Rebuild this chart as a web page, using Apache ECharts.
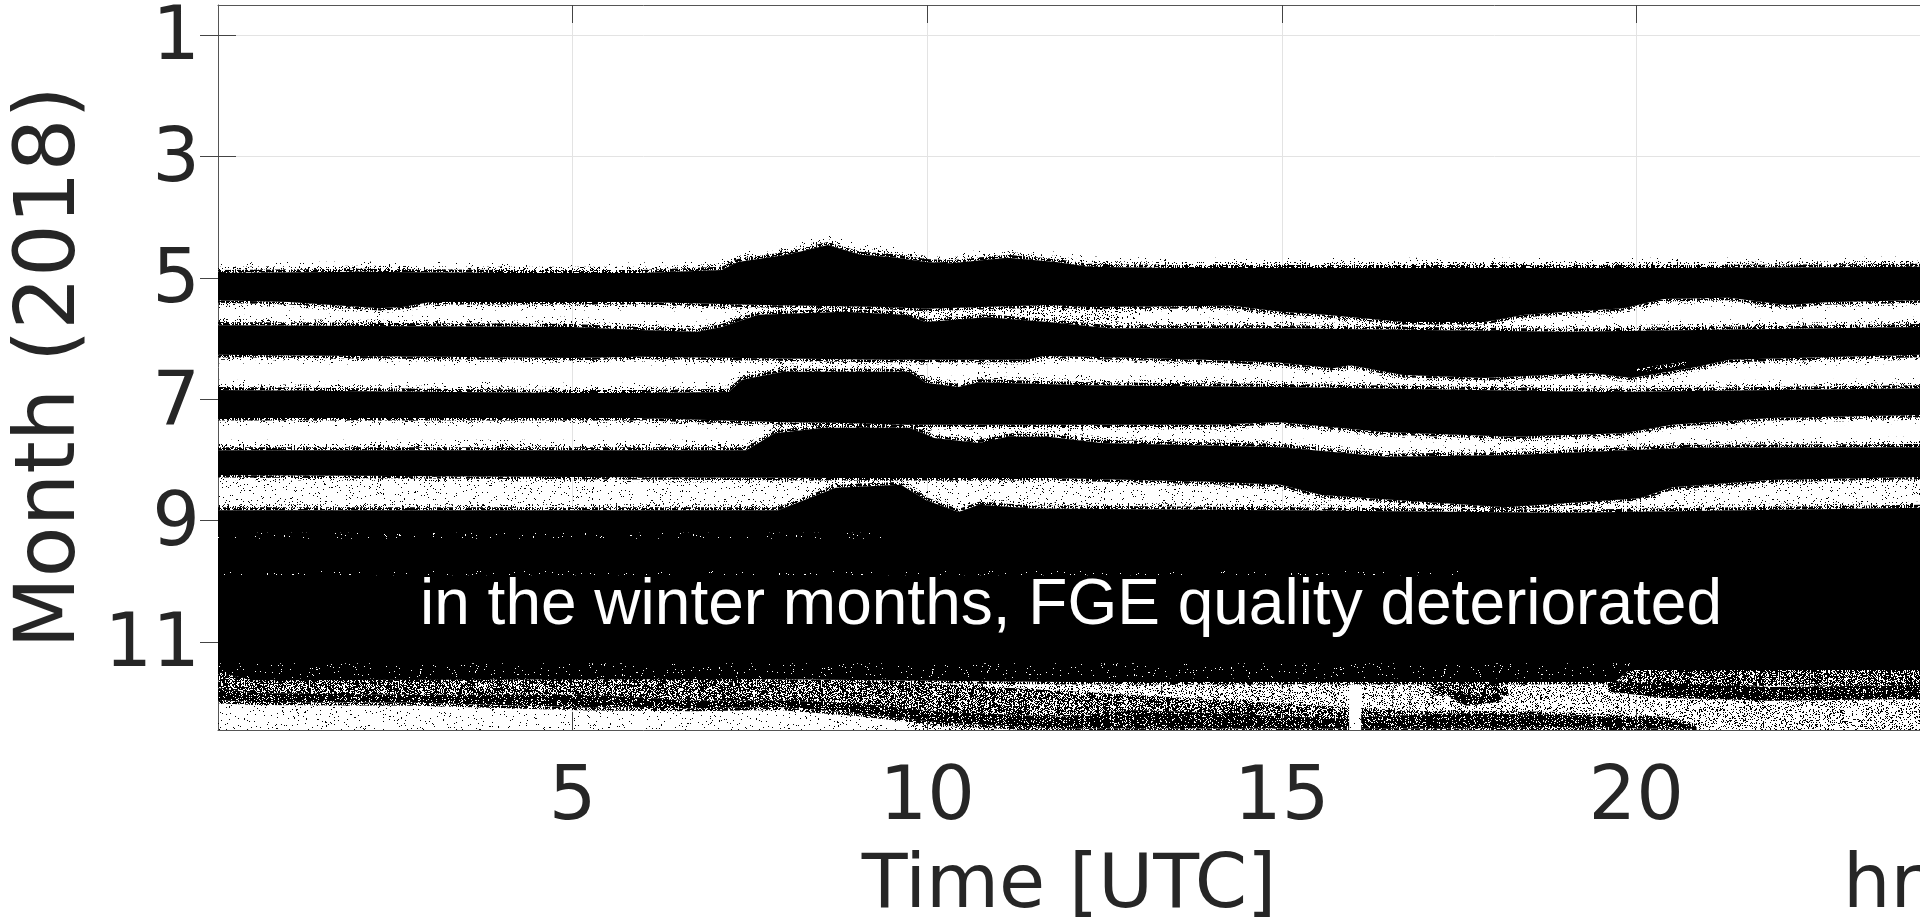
<!DOCTYPE html>
<html>
<head>
<meta charset="utf-8">
<style>html,body{margin:0;padding:0;background:#fff;overflow:hidden}#c{width:1920px;height:918px}</style>
<script src="https://cdn.jsdelivr.net/npm/echarts@6/dist/echarts.min.js"></script>
</head>
<body>
<div id="c"></div>
<script>
// Tick labels
const hourTicks = [5, 10, 15, 20];
const monthTicks = [1, 3, 5, 7, 9, 11];
const annotation = 'in the winter months, FGE quality deteriorated';

// Edges of the solid point clouds: [hour UTC, month position]
const top5 = [[0,4.92],[2,4.90],[4,4.92],[5.95,4.92],[7.1,4.87],[7.33,4.74],[8.02,4.62],[8.6,4.46],[9.06,4.62],[9.52,4.66],[9.98,4.74],[10.33,4.76],[11.13,4.67],[11.82,4.74],[12.28,4.82],[13.43,4.84],[18,4.84],[21,4.84],[24,4.82]];
const bot5 = [[0,5.37],[1,5.40],[2.27,5.50],[2.6,5.48],[3,5.40],[5.95,5.40],[7.68,5.45],[9.4,5.48],[9.98,5.51],[11.71,5.45],[12.28,5.48],[14.3,5.46],[14.98,5.56],[15.61,5.61],[16.71,5.73],[17.86,5.73],[18.43,5.61],[19.82,5.50],[20.39,5.35],[21.31,5.33],[22.12,5.45],[22.75,5.40],[24,5.37]];
const top6 = [[0,5.78],[5,5.81],[5.95,5.86],[6.76,5.89],[7.1,5.81],[7.62,5.61],[8.83,5.56],[9.69,5.61],[9.98,5.73],[10.84,5.65],[11.71,5.73],[12.57,5.83],[14.98,5.83],[19.01,5.89],[24,5.81]];
const bot6 = [[0,6.27],[5,6.32],[5.95,6.30],[9.4,6.35],[11.4,6.35],[11.65,6.29],[12.28,6.30],[13.9,6.35],[14.98,6.40],[15.73,6.49],[15.96,6.44],[16.71,6.60],[17.86,6.65],[19.36,6.57],[19.93,6.65],[20.85,6.47],[21.31,6.35],[24,6.27]];
const top7 = [[0,6.85],[5,6.90],[5.95,6.90],[7.2,6.88],[7.39,6.68],[7.97,6.55],[9.75,6.55],[9.98,6.73],[10.44,6.80],[10.73,6.72],[12.28,6.77],[14.98,6.80],[19.59,6.88],[24,6.82]];
const bot7 = [[0,7.31],[5.95,7.31],[7.97,7.38],[8.66,7.39],[9.69,7.42],[14,7.42],[14.98,7.38],[16.42,7.54],[18.26,7.62],[19.82,7.56],[20.51,7.42],[21.89,7.31],[24,7.26]];
const top8 = [[0,7.84],[7.45,7.84],[7.85,7.56],[8.54,7.47],[9.75,7.47],[10.1,7.64],[10.73,7.72],[11.13,7.62],[11.71,7.62],[12.46,7.72],[14.98,7.79],[16.48,7.95],[18.26,7.92],[20.74,7.80],[24,7.79]];
const bot8 = [[0,8.25],[5,8.28],[8.71,8.30],[11.71,8.30],[14,8.36],[14.98,8.41],[15.56,8.58],[16.59,8.66],[18.15,8.78],[20.05,8.63],[20.51,8.45],[21.89,8.33],[24,8.28]];
const massTop = [[0,8.83],[7.9,8.83],[8.71,8.46],[9.63,8.41],[9.98,8.66],[10.44,8.86],[10.73,8.74],[11.5,8.80],[14.98,8.83],[19,8.87],[24,8.79]];
const massBot = [[0,11.50],[0.5,11.63],[7.5,11.61],[11.9,11.66],[19.7,11.66],[19.9,11.46],[24,11.46]];

// Lower stripe of the December rows
const stripeTop = [[0,11.76],[0.5,11.84],[2.8,11.87],[5.2,11.87],[6.7,11.96],[7.9,11.96],[9,12.01],[10.2,12.15],[11.9,12.23],[13,12.12],[14.2,12.18],[15.7,12.26],[17.3,12.18],[18.8,12.20],[20.4,12.28],[20.85,12.40]];
const stripeBot = [[0,11.96],[0.5,11.99],[2.8,12.00],[5.2,12.08],[6.7,12.09],[7.9,12.07],[9,12.17],[10.2,12.33],[11.9,12.43],[13,12.42],[15.7,12.43],[17.3,12.43],[18.8,12.40],[20.4,12.43],[20.85,12.43]];
const rightStripeTop = [[19.6,11.66],[20.4,11.67],[21.9,11.74],[24,11.71]];
const rightStripeBot = [[19.6,11.82],[20.4,11.92],[21.9,11.97],[24,11.94]];
const bumpTop = [[17.2,11.72],[17.6,11.87],[18.1,11.85]];
const bumpBot = [[17.2,11.80],[17.6,12.05],[18.1,11.98]];
const ghostTop = [[20.0,6.50],[20.7,6.38]];
const ghostBot = [[20.0,6.57],[20.7,6.44]];

// Rectangular speckle zones: [hour from, hour to, month from, month to]
const floorLeft = [0, 9.7, 11.5, 12.45];
const floorMiddle = [9.7, 20.9, 11.6, 12.45];
const floorRight = [19.7, 24, 11.6, 12.45];
const grayLeft = [[0,11.5],[9.7,11.66]];
const grayRight = [19.8, 24, 11.46, 11.72];
const grayBump = [17.1, 18.2, 11.66, 11.88];
const whiteColumn = [15.95, 16.12, 11.66, 12.45];
const streakPatch = [10.8, 11.25, 7.66, 7.78];
const gapJune = [8.0, 13.0, 5.45, 5.72];
const faintLines = [[0, 9.5, 9.2, 9.3], [0, 17.5, 9.83, 9.9], [0, 20, 11.35, 11.6]];
// Hours of the thin vertical dropouts below the solid block
const dropoutHours = [10.15, 12.6, 13.3, 15.0, 15.1, 15.75, 16.56, 16.8];

// Stipple textures
function hash(x, y) {
  let h = (Math.imul(x, 374761393) + Math.imul(y, 668265263)) | 0;
  h = Math.imul(h ^ (h >>> 13), 1274126177);
  return ((h ^ (h >>> 16)) >>> 0) / 4294967296;
}
function tile(color, density, streak) {
  const size = 512, c = document.createElement('canvas');
  c.width = c.height = size;
  const g = c.getContext('2d');
  g.fillStyle = color;
  for (let x = 0; x < size; x++) {
    const p = density * (1 - streak + 2 * streak * hash(x, 7919));
    for (let y = 0; y < size; y++) if (hash(x + 13, y + 101) < p) g.fillRect(x, y, 1, 1);
  }
  return { image: c, repeat: 'repeat' };
}
const black = '#000';
const edge1 = tile(black, 0.62, 0.7), edge2 = tile(black, 0.16, 0.95), edge3 = tile(black, 0.02, 0.3);
const sparse = tile(black, 0.035, 0), medium = tile(black, 0.2, 0.3), dense = tile(black, 0.62, 0.25), heavy = tile(black, 0.86, 0.1);
const gapDots = tile(black, 0.04, 0), gapBusy = tile(black, 0.16, 0.6), faintWhite = tile('#fff', 0.025, 0), streaks = tile(black, 0.5, 0.9), ghostDots = tile('#fff', 0.25, 0);
const columnFade = tile('#fff', 0.8, 0);

// Layers: each is two edges and a fill
const rect = r => ({ a: [[r[0], r[2]], [r[1], r[2]]], b: [[r[0], r[3]], [r[1], r[3]]] });
const layers = [];
const add = (a, b, fill) => layers.push({ a, b, fill });
const addRect = (r, fill) => { const q = rect(r); add(q.a, q.b, fill); };
const shift = (e, d) => e.map(p => [p[0], p[1] + d]);

add(bot8, massTop, gapDots);
addRect(gapJune, gapBusy);
addRect(floorLeft, sparse);
addRect(floorMiddle, medium);
addRect(floorRight, medium);
add(grayLeft, stripeTop, dense);
addRect(grayRight, dense);
addRect(grayBump, dense);
add(stripeTop, stripeBot, heavy);
add(shift(stripeTop, -0.05), stripeTop, dense);
add(stripeBot, shift(stripeBot, 0.05), dense);
add(rightStripeTop, rightStripeBot, heavy);
add(bumpTop, bumpBot, heavy);
addRect(whiteColumn, columnFade);
dropoutHours.forEach(h => addRect([h, h + 0.018, 11.66, 12.3], dense));
addRect(streakPatch, streaks);

const clouds = [[top5, bot5], [top6, bot6], [top7, bot7], [top8, bot8], [massTop, massBot]];
clouds.forEach(([t, b], i) => {
  add(shift(t, -0.17), shift(t, -0.10), edge3);
  add(shift(t, -0.10), shift(t, -0.05), edge2);
  add(shift(t, -0.05), t, edge1);
  if (i < 4) {
    add(b, shift(b, 0.04), edge1);
    add(shift(b, 0.04), shift(b, 0.08), edge2);
    add(shift(b, 0.08), shift(b, 0.14), edge3);
  } else {
    add(massBot, shift(massBot, 0.04), edge1);
  }
  add(t, b, black);
});
faintLines.forEach(r => addRect(r, faintWhite));
add(ghostTop, ghostBot, ghostDots);

const ink = '#262626';
const chart = echarts.init(document.getElementById('c'), null, { renderer: 'canvas', width: 1920, height: 918 });
const tickFont = { fontFamily: 'DejaVu Sans', fontSize: 75, color: ink };
const frame = { show: true, lineStyle: { color: '#555', width: 1 } };
const tick = values => ({ show: true, inside: true, length: 18, lineStyle: { color: '#444', width: 1 }, customValues: values });

chart.setOption({
  animation: false,
  backgroundColor: '#fff',
  grid: { left: 218, right: 0, top: 5, bottom: 188, containLabel: false, outerBoundsMode: 'none' },
  xAxis: [
    { type: 'value', min: 0, max: 24, position: 'bottom',
      name: 'Time [UTC]', nameLocation: 'middle', nameGap: 120,
      nameTextStyle: { fontFamily: 'DejaVu Sans', fontSize: 75, color: ink },
      axisLine: frame, axisTick: tick(hourTicks),
      axisLabel: { ...tickFont, margin: 32, customValues: hourTicks },
      splitLine: { show: true, lineStyle: { color: '#e3e3e3', width: 1 } } },
    { type: 'value', min: 0, max: 24, position: 'top',
      axisLine: frame, axisTick: tick(hourTicks),
      axisLabel: { show: false, customValues: hourTicks }, splitLine: { show: false } }
  ],
  yAxis: [
    { type: 'value', min: 0.506, max: 12.45, inverse: true, position: 'left',
      name: 'Month (2018)', nameLocation: 'middle', nameGap: 118,
      nameTextStyle: { fontFamily: 'DejaVu Sans', fontSize: 83, color: ink },
      axisLine: frame, axisTick: tick(monthTicks),
      axisLabel: { ...tickFont, margin: 18, verticalAlign: 'top', lineHeight: 10, customValues: monthTicks },
      splitLine: { show: true, lineStyle: { color: '#e3e3e3', width: 1 } } },
    { type: 'value', min: 0.506, max: 12.45, inverse: true, position: 'right',
      axisLine: { show: false }, axisTick: tick(monthTicks),
      axisLabel: { show: false, customValues: monthTicks }, splitLine: { show: false } }
  ],
  series: [{
    type: 'custom',
    coordinateSystem: 'cartesian2d',
    xAxisIndex: 0, yAxisIndex: 0,
    clip: true,
    silent: true,
    data: layers.map((l, i) => [i, 1]),
    encode: { x: 0, y: 1 },
    renderItem(params, api) {
      const l = layers[params.dataIndex];
      const pts = l.a.concat(l.b.slice().reverse()).map(p => api.coord(p));
      return {
        type: 'polygon',
        shape: { points: pts },
        style: { fill: l.fill, stroke: null }
      };
    }
  }],
  graphic: [
    { type: 'text', x: 1071, y: 606, z: 100, silent: true,
      style: { text: annotation, fill: '#fff', font: '64px "Liberation Sans"', textAlign: 'center', textVerticalAlign: 'middle' } },
    { type: 'text', x: 1843, y: 888, z: 100, silent: true,
      style: { text: 'hr', fill: ink, font: '75px "DejaVu Sans"', textAlign: 'left', textVerticalAlign: 'middle' } }
  ]
});
</script>
</body>
</html>
